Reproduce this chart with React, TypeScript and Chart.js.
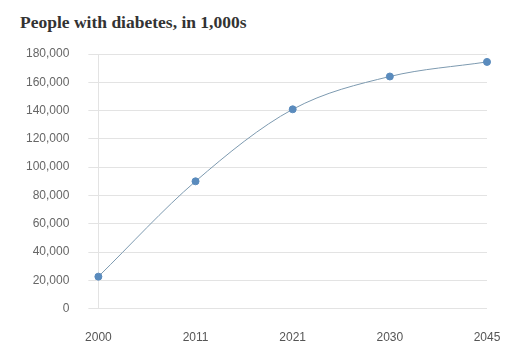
import React, { useEffect, useRef } from "react";
import { Chart, registerables } from "chart.js";

Chart.register(...registerables);

const years = ["2000", "2011", "2021", "2030", "2045"];
const peopleWithDiabetes = [22600, 90000, 140900, 164100, 174400];
const titleText = "People with diabetes, in 1,000s";

export default function App() {
  const ref = useRef<HTMLCanvasElement | null>(null);
  useEffect(() => {
    if (!ref.current) return;
    const chart = new Chart(ref.current, {
      type: "line",
      data: {
        labels: years,
        datasets: [
          {
            data: peopleWithDiabetes,
            borderColor: "#7d9ab0",
            borderWidth: 1,
            backgroundColor: "#5a8bbd",
            pointBackgroundColor: "#5a8bbd",
            pointBorderColor: "#5a8bbd",
            pointRadius: 3.5,
            cubicInterpolationMode: "monotone",
            fill: false,
          },
        ],
      },
      options: {
        animation: false,
        responsive: false,
        layout: { padding: { top: 54, left: 7, right: 38, bottom: -11 } },
        plugins: { legend: { display: false }, title: { display: false }, tooltip: { enabled: false } },
        scales: {
          x: {
            offset: false,
            grid: { display: false, drawTicks: false },
            border: { display: false },
            ticks: { padding: 22, color: "#555", font: { family: "Liberation Sans", size: 12 }, maxRotation: 0 },
          },
          y: {
            min: 0,
            max: 180000,
            grid: { color: "#e3e3e3", tickLength: 10, lineWidth: 1 },
            border: { display: true, color: "#e3e3e3" },
            ticks: {
              stepSize: 20000,
              padding: 19,
              color: "#666",
              font: { family: "Liberation Sans", size: 12 },
              callback: (v: any) => Number(v).toLocaleString("en-US"),
            },
          },
        },
      },
    });
    return () => chart.destroy();
  }, []);
  return (
    <div style={{ position: "fixed", left: 0, top: 0, width: 525, height: 356, background: "#fff" }}>
      <div
        style={{
          position: "absolute",
          left: 20,
          top: 12,
          fontFamily: "'Liberation Serif', serif",
          fontWeight: "bold",
          fontSize: 17.5,
          color: "#333",
          whiteSpace: "nowrap",
        }}
      >
        {titleText}
      </div>
      <canvas ref={ref} width={525} height={356} style={{ position: "absolute", left: 0, top: 0 }} />
    </div>
  );
}
